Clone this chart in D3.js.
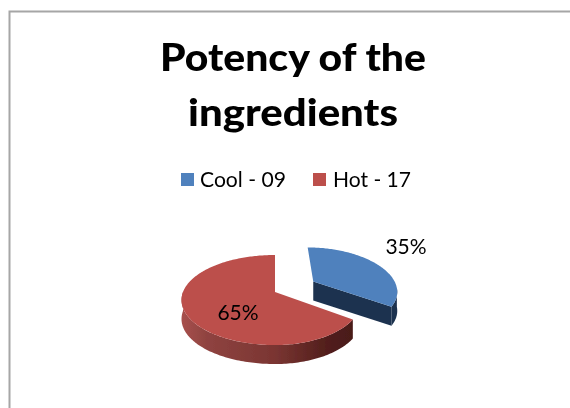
<!DOCTYPE html>
<html><head><meta charset="utf-8">
<script src="https://cdn.jsdelivr.net/npm/d3@7"></script>
<style>html,body{margin:0;padding:0;background:#fff}svg{display:block}text{font-family:Lato,"Open Sans",sans-serif;fill:#000}</style>
</head><body><div id="c"></div>
<script>
const categories = ["Cool - 09", "Hot - 17"];
const values = [9, 17];
const colors = ["#4f81bd", "#bc4f4c"];
const sideColors = ["#1c3350", null];
const titleLines = ["Potency of the", "ingredients"];

const W = 570, H = 408;
const svg = d3.select("#c").append("svg").attr("width", W).attr("height", H);
const defs = svg.append("defs");
const blur = defs.append("filter").attr("id","soft").attr("x","-5%").attr("y","-5%").attr("width","110%").attr("height","110%");
blur.append("feGaussianBlur").attr("stdDeviation",0.45);
const grad = defs.append("linearGradient").attr("id","redSide").attr("gradientUnits","userSpaceOnUse")
  .attr("x1",181).attr("x2",352).attr("y1",0).attr("y2",0);
[[0,"#a8504d"],[0.15,"#8f4340"],[0.55,"#7a3532"],[0.85,"#521f1c"],[1,"#4a1c19"]].forEach(([o,c])=>grad.append("stop").attr("offset",o).attr("stop-color",c));

svg.append("rect").attr("x",9.5).attr("y",11.5).attr("width",W+20).attr("height",H+20)
  .attr("fill","#fff").attr("stroke","#a6a6a6").attr("stroke-width",2);

const root = svg.append("g").attr("filter","url(#soft)");

// Title
const titleW = [266, 210];
root.selectAll("text.title").data(titleLines).join("text").attr("class","title")
  .attr("x",293).attr("y",(d,i)=>71+i*55).attr("text-anchor","middle")
  .attr("font-size",37).attr("font-weight",900)
  .attr("textLength",(d,i)=>titleW[i]).attr("lengthAdjust","spacingAndGlyphs").text(d=>d);

// Legend
const legendX = [181, 313], legendTextX = [200, 333], legendW = [86, 78];
const leg = root.selectAll("g.leg").data(categories).join("g").attr("class","leg");
leg.append("rect").attr("x",(d,i)=>legendX[i]).attr("y",173).attr("width",13).attr("height",13).attr("fill",(d,i)=>colors[i]);
leg.append("text").attr("x",(d,i)=>legendTextX[i]).attr("y",187).attr("font-size",21)
  .attr("textLength",(d,i)=>legendW[i]).attr("lengthAdjust","spacingAndGlyphs").text(d=>d);

// Pie in perspective
const cx = 275, cy = 292, rxLeft = 92, rxRight = 85, ry = 43.6, k = 0.178, depth = 19;
const explodeX = 0.47, explodeZ = -0.25;
const pie = d3.pie().sort(null).value(d=>d)(values);
const project = (s,t,dz=0)=>{const p=1/(1-k*t);return [cx+(s<0?rxLeft:rxRight)*s*p, cy+ry*t*p+dz];};
const line = d3.line();
const total = d3.sum(values);
function off(a,i){return i===0?[explodeX,explodeZ]:[0,0];}
function rim(a,i,from,to,dz){
  const [ox,oz]=off(a,i), n=Math.max(2,Math.ceil((to-from)/0.02)), r=[];
  d3.range(n+1).forEach(j=>{const th=from+(to-from)*j/n; r.push(project(Math.sin(th)+ox,-Math.cos(th)+oz,dz));});
  return r;
}
const apex=(a,i,dz=0)=>{const [ox,oz]=off(a,i);return project(ox,oz,dz);};

const g = root.append("g");
// Blue walls
{
  const a=pie[0];
  const end=a.endAngle, vis=Math.PI*0.55;
  const outer=rim(a,0,vis,end,0), outerB=rim(a,0,vis,end,depth).reverse();
  g.append("path").attr("d",line(outer.concat(outerB))+"Z").attr("fill",sideColors[0]);
  const e=rim(a,0,end,end,0)[0], eb=rim(a,0,end,end,depth)[0];
  g.append("path").attr("d",line([apex(a,0),e,eb,apex(a,0,depth)])+"Z").attr("fill",sideColors[0]);
}
// Red wall
{
  const a=pie[1];
  const from=a.startAngle, to=Math.PI*1.5;
  const top=rim(a,1,from,to,0), bot=rim(a,1,from,to,depth).reverse();
  g.append("path").attr("d",line(top.concat(bot))+"Z").attr("fill","url(#redSide)");
}
// Top faces
pie.forEach((a,i)=>{
  g.append("path").attr("d",line([apex(a,i)].concat(rim(a,i,a.startAngle,a.endAngle,0)))+"Z").attr("fill",colors[i]);
});

// Percent labels
const pct = v=>d3.format(".0%")(v/total);
const labelPos=[[406,254],[238,320]];
root.selectAll("text.pct").data(values).join("text").attr("class","pct")
  .attr("x",(d,i)=>labelPos[i][0]).attr("y",(d,i)=>labelPos[i][1]).attr("text-anchor","middle")
  .attr("font-size",21).text(pct);
</script></body></html>
